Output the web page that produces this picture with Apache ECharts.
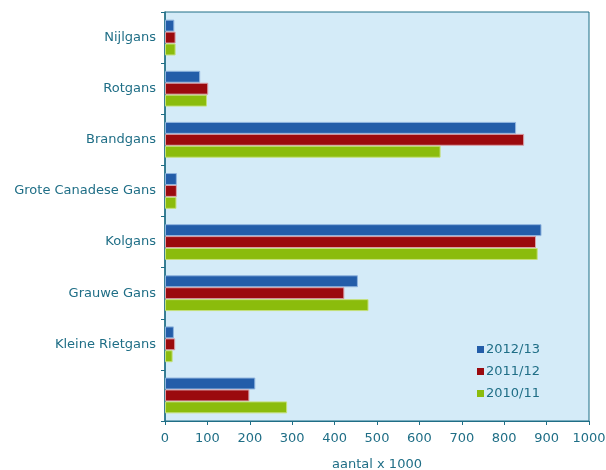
<!DOCTYPE html>
<html>
<head>
<meta charset="utf-8">
<script src="https://cdn.jsdelivr.net/npm/echarts@6/dist/echarts.min.js"></script>
<style>
  html, body { margin: 0; padding: 0; background: #fff; }
  #chart { width: 606px; height: 470px; }
</style>
</head>
<body>
<div id="chart"></div>
<script>
  var categories = ['Nijlgans', 'Rotgans', 'Brandgans', 'Grote Canadese Gans', 'Kolgans', 'Grauwe Gans', 'Kleine Rietgans', ''];
  var seasons = ['2012/13', '2011/12', '2010/11'];
  var s2012 = [22, 83, 828, 28, 888, 455, 21, 213];
  var s2011 = [25, 102, 847, 28, 875, 423, 24, 199];
  var s2010 = [25, 99, 650, 27, 879, 480, 18, 288];
  var xTicks = [0, 100, 200, 300, 400, 500, 600, 700, 800, 900, 1000];

  var teal = '#1f6e86';
  var colors = ['#235da9', '#9b0a0e', '#8bbc0c'];
  var borders = ['#8fb4de', '#d8a0a8', '#c4e07a'];
  var font = 'DejaVu Sans';

  var chart = echarts.init(document.getElementById('chart'));

  function bar(i, values) {
    return {
      name: seasons[i],
      type: 'bar',
      data: values,
      barGap: '0%',
      barCategoryGap: '30%',
      itemStyle: { color: colors[i], borderColor: borders[i], borderWidth: 1 }
    };
  }

  chart.setOption({
    animation: false,
    textStyle: { fontFamily: font },
    grid: {
      left: 165, right: 17, top: 12, bottom: 49,
      outerBoundsMode: 'none',
      containLabel: false,
      show: true, backgroundColor: '#d4ebf8', borderColor: teal, borderWidth: 1
    },
    legend: {
      orient: 'vertical',
      left: 472, top: 338,
      itemWidth: 7, itemHeight: 7, itemGap: 9,
      icon: 'rect',
      itemStyle: { borderWidth: 0 },
      textStyle: { color: teal, fontSize: 13, fontFamily: font, padding: [0, 0, 0, -3] },
      data: seasons
    },
    xAxis: {
      type: 'value',
      min: xTicks[0], max: xTicks[xTicks.length - 1], interval: 100,
      name: 'aantal x 1000', nameLocation: 'middle', nameGap: 37,
      nameTextStyle: { color: teal, fontSize: 13, fontFamily: font },
      axisLine: { show: true, lineStyle: { color: teal } },
      axisTick: { show: true, length: 4, lineStyle: { color: teal } },
      axisLabel: { color: teal, fontSize: 13, margin: 11, fontFamily: font, formatter: function (v) { return String(v); } },
      splitLine: { show: false }
    },
    yAxis: {
      type: 'category',
      inverse: true,
      data: categories,
      axisLine: { show: true, lineStyle: { color: teal, width: 1.5 } },
      axisTick: { show: true, length: 4, lineStyle: { color: teal } },
      axisLabel: { color: teal, fontSize: 13, margin: 9, fontFamily: font }
    },
    series: [bar(0, s2012), bar(1, s2011), bar(2, s2010)]
  });
</script>
</body>
</html>
